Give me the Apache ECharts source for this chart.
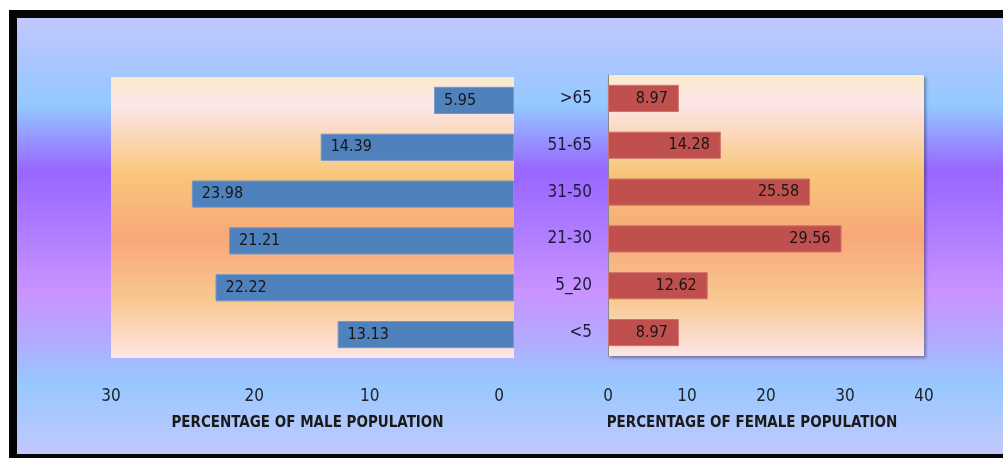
<!DOCTYPE html>
<html>
<head>
<meta charset="utf-8">
<script src="https://cdn.jsdelivr.net/npm/echarts@6/dist/echarts.min.js"></script>
<style>
html,body{margin:0;padding:0;background:#ffffff;}
#chart{width:1003px;height:458px;}
</style>
</head>
<body>
<div id="chart"></div>
<script>
// Data
const categories = ['<5', '5_20', '21-30', '31-50', '51-65', '>65'];
const maleValues = [13.13, 22.22, 21.21, 23.98, 14.39, 5.95];
const femaleValues = [8.97, 12.62, 29.56, 25.58, 14.28, 8.97];
const maleTitle = 'PERCENTAGE OF MALE POPULATION';
const femaleTitle = 'PERCENTAGE OF FEMALE POPULATION';

const FONT = '"Liberation Sans Narrow", "DejaVu Sans Condensed", "Open Sans", sans-serif';

const plotBg = {
  type: 'linear', x: 0, y: 0, x2: 0, y2: 1,
  colorStops: [
    {offset: 0, color: '#fbeacc'},
    {offset: 0.1, color: '#fde6ea'},
    {offset: 0.35, color: '#f8c67a'},
    {offset: 0.57, color: '#f8a878'},
    {offset: 0.8, color: '#f8c890'},
    {offset: 1, color: '#fde6e6'}
  ]
};
const pageBg = {
  type: 'linear', x: 0, y: 0, x2: 0, y2: 1,
  colorStops: [
    {offset: 0, color: '#c2c8fe'},
    {offset: 0.1, color: '#abc6ff'},
    {offset: 0.2, color: '#93c9ff'},
    {offset: 0.35, color: '#9966ff'},
    {offset: 0.5, color: '#b07eff'},
    {offset: 0.63, color: '#c994ff'},
    {offset: 0.73, color: '#b4a8ff'},
    {offset: 0.84, color: '#98c8ff'},
    {offset: 1, color: '#c2c8fe'}
  ]
};

// small horizontal nudges of the male axis labels, as placed in the original picture
const labelRich = {
  n0: {fontSize: 17, color: '#222', fontFamily: FONT, padding: [0, 30, 0, 0]},
  n10: {fontSize: 17, color: '#222', fontFamily: FONT, padding: [0, 20, 0, 0]},
  n20: {fontSize: 17, color: '#222', fontFamily: FONT, padding: [0, 0, 0, 18]},
  n30: {fontSize: 17, color: '#222', fontFamily: FONT}
};

const chart = echarts.init(document.getElementById('chart'));
const option = {
  animation: false,
  textStyle: {fontFamily: FONT},
  graphic: [
    {type: 'rect', z: -10, shape: {x: 9, y: 10, width: 994, height: 448}, style: {fill: '#050505'}},
    {type: 'rect', z: -9, shape: {x: 17, y: 18, width: 986, height: 436}, style: {fill: pageBg}}
  ],
  grid: [
    {left: 111, top: 77, width: 403, height: 281, show: true, backgroundColor: plotBg, borderWidth: 0},
    {left: 608, top: 75, width: 316, height: 281, show: true, backgroundColor: plotBg, borderWidth: 0,
     shadowColor: 'rgba(0,0,0,0.35)', shadowBlur: 3, shadowOffsetX: 2, shadowOffsetY: 2}
  ],
  xAxis: [
    {gridIndex: 0, type: 'value', inverse: true, min: 0, max: 30, interval: 10,
     axisLine: {show: false}, axisTick: {show: false}, splitLine: {show: false},
     axisLabel: {margin: 30, fontSize: 17, color: '#222', fontFamily: FONT,
       formatter: v => '{n' + v + '|' + v + '}', rich: labelRich},
     name: maleTitle, nameLocation: 'middle', nameGap: 58,
     nameTextStyle: {fontSize: 15, fontWeight: 'bold', color: '#1a1a1a', fontFamily: FONT, padding: [0, 10, 0, 0]}},
    {gridIndex: 1, type: 'value', min: 0, max: 40, interval: 10,
     axisLine: {show: false}, axisTick: {show: false}, splitLine: {show: false},
     axisLabel: {margin: 32, fontSize: 17, color: '#222', fontFamily: FONT},
     name: femaleTitle, nameLocation: 'middle', nameGap: 60,
     nameTextStyle: {fontSize: 15, fontWeight: 'bold', color: '#1a1a1a', fontFamily: FONT, padding: [0, 28, 0, 0]}}
  ],
  yAxis: [
    {gridIndex: 0, type: 'category', data: categories, position: 'right',
     axisLine: {show: false}, axisTick: {show: false}, axisLabel: {show: false}},
    {gridIndex: 1, type: 'category', data: categories, position: 'left',
     axisLine: {show: true, lineStyle: {color: '#8a8a8a', width: 1}},
     axisTick: {show: false},
     axisLabel: {margin: 16, fontSize: 17, color: '#1c1c3a', fontFamily: FONT}}
  ],
  series: [
    {type: 'bar', xAxisIndex: 0, yAxisIndex: 0, data: maleValues, barCategoryGap: '42%',
     itemStyle: {color: '#4f81bd', borderColor: '#6f98cc', borderWidth: 1},
     label: {show: true, position: 'insideLeft', distance: 10, fontSize: 16, color: '#161616', fontFamily: FONT}},
    {type: 'bar', xAxisIndex: 1, yAxisIndex: 1, data: femaleValues, barCategoryGap: '42%',
     itemStyle: {color: '#c0504d', borderColor: '#d0706c', borderWidth: 1},
     label: {show: true, position: 'insideRight', distance: 11, fontSize: 16, color: '#161616', fontFamily: FONT}}
  ]
};
chart.setOption(option);
</script>
</body>
</html>
